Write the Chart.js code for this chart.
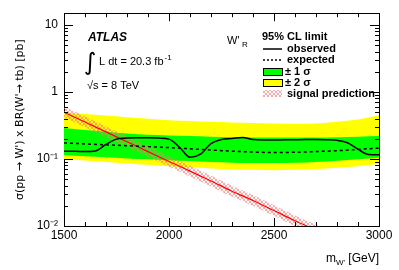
<!DOCTYPE html>
<html>
<head>
<meta charset="utf-8">
<script src="https://cdn.jsdelivr.net/npm/chart.js@4.4.1/dist/chart.umd.min.js"></script>
<style>
html, body { margin: 0; padding: 0; background: #fff; }
</style>
</head>
<body>
<canvas id="limit_chart" width="399" height="270"></canvas>
<script>
// W'R -> tb limit (pb)
const mass = [1500, 1600, 1700, 1800, 1900, 2000, 2100, 2200, 2300, 2400, 2500, 2600, 2700, 2800, 2900, 3000];
const expected = [0.174, 0.168, 0.163, 0.158, 0.153, 0.148, 0.142, 0.136, 0.131, 0.127, 0.125, 0.126, 0.129, 0.133, 0.139, 0.146];
const oneSigmaUp = [0.29, 0.27, 0.255, 0.24, 0.23, 0.225, 0.22, 0.215, 0.212, 0.21, 0.21, 0.21, 0.21, 0.212, 0.215, 0.22];
const oneSigmaDown = [0.115, 0.11, 0.106, 0.102, 0.099, 0.096, 0.093, 0.09, 0.088, 0.087, 0.087, 0.088, 0.09, 0.094, 0.099, 0.104];
const twoSigmaUp = [0.5, 0.47, 0.445, 0.42, 0.4, 0.38, 0.37, 0.36, 0.352, 0.345, 0.338, 0.336, 0.34, 0.36, 0.39, 0.45];
const twoSigmaDown = [0.1, 0.095, 0.09, 0.086, 0.082, 0.078, 0.075, 0.072, 0.07, 0.069, 0.068, 0.069, 0.071, 0.074, 0.078, 0.084];

const obsMass = [1500, 1550, 1600, 1650, 1700, 1750, 1800, 1850, 1900, 1950, 2000, 2050, 2100, 2150, 2200, 2250, 2300, 2350, 2400, 2450, 2500, 2550, 2600, 2650, 2700, 2750, 2800, 2850, 2900, 2950, 3000];
const observed = [0.13, 0.13, 0.129, 0.132, 0.165, 0.198, 0.205, 0.207, 0.207, 0.205, 0.198, 0.15, 0.106, 0.118, 0.17, 0.196, 0.202, 0.21, 0.195, 0.192, 0.192, 0.193, 0.194, 0.195, 0.195, 0.194, 0.19, 0.175, 0.14, 0.117, 0.116];

const sigMass = [1500, 1600, 1700, 1800, 1900, 2000, 2100, 2200, 2300, 2400, 2500, 2600, 2700, 2800];
const signal = [0.5, 0.356, 0.254, 0.181, 0.129, 0.092, 0.066, 0.047, 0.033, 0.024, 0.017, 0.012, 0.0087, 0.0062];
const signalUp = [0.6, 0.43, 0.305, 0.217, 0.155, 0.11, 0.079, 0.056, 0.04, 0.029, 0.0204, 0.0144, 0.0104, 0.0074];
const signalDown = [0.42, 0.297, 0.212, 0.151, 0.108, 0.077, 0.055, 0.039, 0.0275, 0.02, 0.0142, 0.01, 0.0073, 0.0052];

// axis ticks
const xTicks = [1500, 1600, 1700, 1800, 1900, 2000, 2100, 2200, 2300, 2400, 2500, 2600, 2700, 2800, 2900, 3000];
const xLabelTicks = [1500, 2000, 2500, 3000];
const yDecades = [0.01, 0.1, 1, 10];
const yDecadeLabels = ['10\u207B\u00B2', '10\u207B\u00B9', '1', '10'];
const ySubSteps = [1, 2, 3, 4, 5, 6, 7, 8, 9];

const FONT = '"Liberation Sans", Arial, sans-serif';

function pts(xs, ys) {
    return xs.map((m, i) => ({ x: m, y: ys[i] }));
}

function hatchPattern() {
    const c = document.createElement('canvas');
    c.width = 4;
    c.height = 4;
    const g = c.getContext('2d');
    g.strokeStyle = 'rgba(255, 120, 120, 0.65)';
    g.lineWidth = 1;
    g.beginPath();
    g.moveTo(0, 4); g.lineTo(4, 0);
    g.moveTo(0, 0); g.lineTo(4, 4);
    g.stroke();
    return g.createPattern(c, 'repeat');
}

function yTickList() {
    const list = [];
    yDecades.forEach(d => ySubSteps.forEach(s => {
        const v = d * s;
        if (v <= 15) list.push({ value: v, major: s === 1 });
    }));
    return list;
}

// ROOT style ticks pointing into the frame
const innerTicks = {
    id: 'innerTicks',
    afterDatasetsDraw(chart) {
        const { ctx, chartArea: a, scales } = chart;
        const x = scales.x, y = scales.y;
        ctx.save();
        ctx.strokeStyle = '#000';
        ctx.lineWidth = 1;
        ctx.beginPath();
        x.ticks.forEach(t => {
            const px = Math.round(x.getPixelForValue(t.value)) + 0.5;
            const len = xLabelTicks.includes(t.value) ? 8 : 4;
            ctx.moveTo(px, a.bottom); ctx.lineTo(px, a.bottom - len);
            ctx.moveTo(px, a.top); ctx.lineTo(px, a.top + len);
        });
        y.ticks.forEach(t => {
            const py = Math.round(y.getPixelForValue(t.value)) + 0.5;
            const len = t.major ? 9 : 4;
            ctx.moveTo(a.left, py); ctx.lineTo(a.left + len, py);
            ctx.moveTo(a.right, py); ctx.lineTo(a.right - len, py);
        });
        ctx.stroke();
        ctx.restore();
    }
};

const annotations = {
    id: 'annotations',
    afterDraw(chart) {
        const ctx = chart.ctx;
        const hatch = chart.$hatch;
        ctx.save();
        ctx.fillStyle = '#000';
        ctx.textBaseline = 'alphabetic';

        ctx.font = 'italic bold 12px ' + FONT;
        ctx.fillText('ATLAS', 88, 41);

        ctx.font = '24px "DejaVu Sans"';
        ctx.fillText('\u222B', 84, 70);
        ctx.font = '11px ' + FONT;
        ctx.fillText('L dt = 20.3 fb', 99, 65);
        let w = ctx.measureText('L dt = 20.3 fb').width;
        ctx.font = '8px ' + FONT;
        ctx.fillText('-1', 99 + w + 1, 60);
        ctx.font = '11px ' + FONT;
        ctx.fillText('\u221As = 8 TeV', 87, 89);

        ctx.font = '11px ' + FONT;
        ctx.fillText("W'", 227, 44);
        ctx.font = '8px ' + FONT;
        ctx.fillText('R', 242, 47);

        // legend
        ctx.font = 'bold 11px ' + FONT;
        ctx.fillText('95% CL limit', 262, 40);
        ctx.fillText('observed', 287, 52);
        ctx.fillText('expected', 287, 63);
        ctx.fillText('\u00B1 1 \u03C3', 285, 75);
        ctx.fillText('\u00B1 2 \u03C3', 285, 86);
        ctx.fillText('signal prediction', 287, 97);

        ctx.strokeStyle = '#000';
        ctx.lineWidth = 1.5;
        ctx.beginPath(); ctx.moveTo(263, 49); ctx.lineTo(282, 49); ctx.stroke();
        ctx.setLineDash([2, 2]);
        ctx.beginPath(); ctx.moveTo(263, 60); ctx.lineTo(282, 60); ctx.stroke();
        ctx.setLineDash([]);
        ctx.lineWidth = 1;
        ctx.fillStyle = '#00ff00';
        ctx.fillRect(263, 68, 19, 7);
        ctx.strokeRect(263.5, 68.5, 19, 7);
        ctx.fillStyle = '#ffff00';
        ctx.fillRect(263, 79, 19, 7);
        ctx.strokeRect(263.5, 79.5, 19, 7);
        ctx.fillStyle = hatch;
        ctx.fillRect(263, 90, 19, 7);

        // x axis title with subscript
        ctx.fillStyle = '#000';
        ctx.font = '12px ' + FONT;
        const tail = ' [GeV]';
        const wTail = ctx.measureText(tail).width;
        const wM = ctx.measureText('m').width;
        ctx.font = '8px ' + FONT;
        const wSub = ctx.measureText("W'").width;
        const right = chart.chartArea.right;
        const x0 = right - wTail - wSub - wM;
        ctx.font = '12px ' + FONT;
        ctx.fillText('m', x0, 262);
        ctx.fillText(tail, x0 + wM + wSub, 262);
        ctx.font = '8px ' + FONT;
        ctx.fillText("W'", x0 + wM, 265);
        ctx.restore();
    }
};

function createLimitChart() {
    const canvas = document.getElementById('limit_chart');
    const hatch = hatchPattern();
    const line = { pointRadius: 0, fill: false, cubicInterpolationMode: 'monotone' };
    const edge = { pointRadius: 0, borderWidth: 0, borderColor: 'rgba(0,0,0,0)', cubicInterpolationMode: 'monotone' };

    const data = {
        datasets: [
            Object.assign({ label: 'observed', data: pts(obsMass, observed), borderColor: '#000', borderWidth: 1.5 }, line),
            Object.assign({ label: 'expected', data: pts(mass, expected), borderColor: '#000', borderWidth: 1.5, borderDash: [3, 3] }, line),
            Object.assign({ label: 'signal', data: pts(sigMass, signal), borderColor: '#ff0000', borderWidth: 1.2 }, line),
            Object.assign({ label: 'signal up', data: pts(sigMass, signalUp), fill: '+1', backgroundColor: hatch }, edge),
            Object.assign({ label: 'signal down', data: pts(sigMass, signalDown), fill: false }, edge),
            Object.assign({ label: '1 sigma up', data: pts(mass, oneSigmaUp), fill: '+1', backgroundColor: '#00ff00' }, edge),
            Object.assign({ label: '1 sigma down', data: pts(mass, oneSigmaDown), fill: false }, edge),
            Object.assign({ label: '2 sigma up', data: pts(mass, twoSigmaUp), fill: '+1', backgroundColor: '#ffff00' }, edge),
            Object.assign({ label: '2 sigma down', data: pts(mass, twoSigmaDown), fill: false }, edge)
        ]
    };

    const config = {
        type: 'line',
        data: data,
        options: {
            responsive: false,
            animation: false,
            events: [],
            layout: { padding: 0 },
            plugins: {
                legend: { display: false },
                tooltip: { enabled: false }
            },
            scales: {
                x: {
                    type: 'linear',
                    position: 'bottom',
                    min: 1500,
                    max: 3000,
                    afterBuildTicks: s => { s.ticks = xTicks.map(v => ({ value: v })); },
                    afterFit: s => { s.height = 44; },
                    ticks: {
                        autoSkip: false,
                        maxRotation: 0,
                        padding: 2,
                        color: '#000',
                        font: { family: FONT, size: 12 },
                        callback: v => xLabelTicks.includes(v) ? String(v) : ''
                    },
                    grid: { display: false, drawTicks: false },
                    border: { display: true, color: '#000', width: 1 }
                },
                xTop: {
                    type: 'linear',
                    position: 'top',
                    min: 1500,
                    max: 3000,
                    afterFit: s => { s.height = 13; },
                    ticks: { display: false },
                    grid: { display: false, drawTicks: false },
                    border: { display: true, color: '#000', width: 1 }
                },
                y: {
                    type: 'logarithmic',
                    position: 'left',
                    min: 0.01,
                    max: 15,
                    afterBuildTicks: s => { s.ticks = yTickList(); },
                    afterFit: s => { s.width = 64; },
                    ticks: {
                        autoSkip: false,
                        padding: 6,
                        color: '#000',
                        font: { family: FONT, size: 12 },
                        callback: (v, i, ticks) => {
                            const k = yDecades.findIndex(d => Math.abs(d - v) < d * 1e-6);
                            return k < 0 ? '' : yDecadeLabels[k];
                        }
                    },
                    title: {
                        display: true,
                        text: "\u03C3(pp \u2192 W') x BR(W'\u2192 tb) [pb]",
                        color: '#000',
                        font: { family: '"DejaVu Sans", sans-serif', size: 11 },
                        padding: { top: 14, bottom: 0 }
                    },
                    grid: { display: false, drawTicks: false },
                    border: { display: true, color: '#000', width: 1 }
                },
                yRight: {
                    type: 'logarithmic',
                    position: 'right',
                    min: 0.01,
                    max: 15,
                    afterFit: s => { s.width = 20; },
                    ticks: { display: false },
                    grid: { display: false, drawTicks: false },
                    border: { display: true, color: '#000', width: 1 }
                }
            }
        },
        plugins: [innerTicks, annotations]
    };

    const myChart = new Chart(canvas, config);
    myChart.$hatch = hatch;
    myChart.draw();
    return myChart;
}

createLimitChart();
</script>
</body>
</html>
